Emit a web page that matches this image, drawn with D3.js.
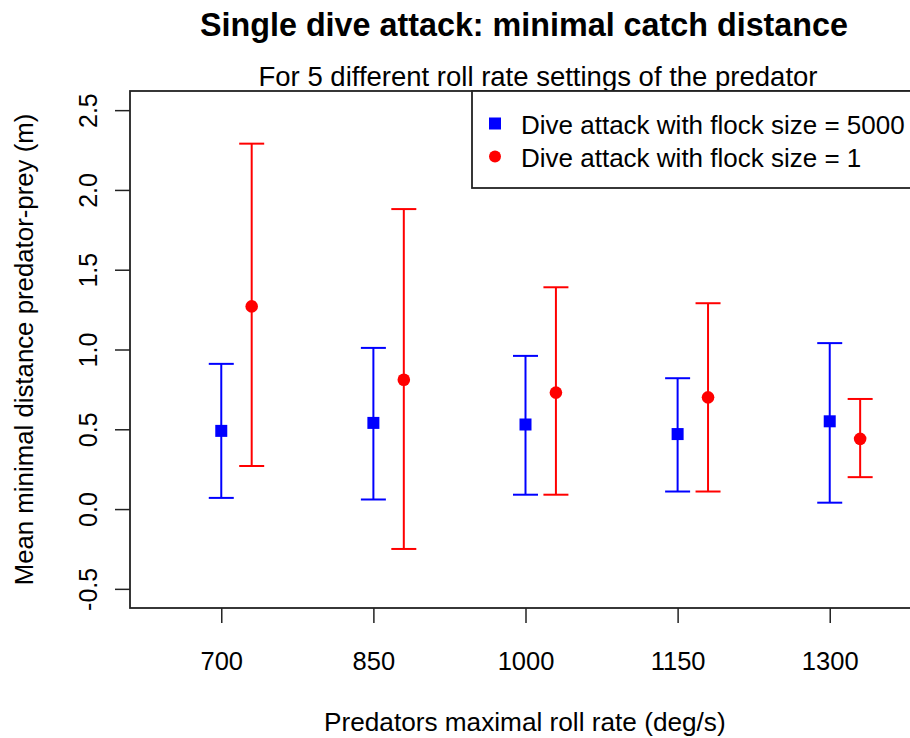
<!DOCTYPE html>
<html>
<head>
<meta charset="utf-8">
<script src="https://cdn.jsdelivr.net/npm/d3@7"></script>
<style>
  body { margin: 0; background: #fff; }
  text { font-family: "Liberation Sans", Arial, sans-serif; fill: #000; }
</style>
</head>
<body>
<script>
// roll rate settings (deg/s)
let rates = [700, 850, 1000, 1150, 1300];
let yTicks = [-0.5, 0.0, 0.5, 1.0, 1.5, 2.0, 2.5];

// flock size = 5000
let flock5000Mean = [0.49, 0.54, 0.53, 0.47, 0.55];
let flock5000Low  = [0.07, 0.06, 0.09, 0.11, 0.04];
let flock5000High = [0.91, 1.01, 0.96, 0.82, 1.04];

// flock size = 1 (drawn a bit to the right of the tick)
let flock1Mean = [1.27, 0.81, 0.73, 0.70, 0.44];
let flock1Low  = [0.27, -0.25, 0.09, 0.11, 0.20];
let flock1High = [2.29, 1.88, 1.39, 1.29, 0.69];
let flock1Offset = 30;

let legendLabels = ["Dive attack with flock size = 5000", "Dive attack with flock size = 1"];

let w = 910, h = 738;
let pLeft = 130, pTop = 91, pBottom = 608, pRight = 921;

let x = d3.scaleLinear().domain([610, 1390]).range([pLeft, pRight]);
let y = d3.scaleLinear().domain([-0.62, 2.62]).range([pBottom, pTop]);

let svg = d3.select("body").append("svg").attr("width", w).attr("height", h);

// titles
svg.append("text").attr("x", 524).attr("y", 36).attr("text-anchor", "middle")
  .style("font-weight", "bold").style("font-size", "32.3px")
  .text("Single dive attack: minimal catch distance");
svg.append("text").attr("x", 538).attr("y", 86).attr("text-anchor", "middle")
  .style("font-size", "27.5px")
  .text("For 5 different roll rate settings of the predator");

// x axis
let xAxis = svg.append("g").attr("transform", `translate(0,${pBottom})`)
  .call(d3.axisBottom(x).tickValues(rates).tickSize(15).tickPadding(0).tickFormat(d3.format("d")));
xAxis.select(".domain").remove();
xAxis.selectAll("line").attr("stroke", "#222").attr("stroke-width", 1.5);
xAxis.selectAll("text").attr("y", 62).attr("dy", 0).style("font-size", "25.5px");

// y axis (plain hyphen for negatives, like the original)
let yAxis = svg.append("g").attr("transform", `translate(${pLeft},0)`)
  .call(d3.axisLeft(y).tickValues(yTicks).tickSize(15).tickFormat(d => d.toFixed(1)));
yAxis.select(".domain").remove();
yAxis.selectAll("line").attr("stroke", "#222").attr("stroke-width", 1.5);
yAxis.selectAll("text")
  .attr("x", 0).attr("dy", 0)
  .attr("text-anchor", "middle")
  .attr("transform", "translate(-33,0) rotate(-90)")
  .style("font-size", "25px");

svg.append("text").attr("x", 324).attr("y", 731).attr("text-anchor", "start")
  .style("font-size", "26.2px").text("Predators maximal roll rate (deg/s)");
svg.append("text").attr("transform", `translate(33,${(pTop + pBottom) / 2}) rotate(-90)`)
  .attr("text-anchor", "middle").style("font-size", "25.8px")
  .text("Mean minimal distance predator-prey (m)");

// error bars
function errorBars(means, lows, highs, off, color, shape) {
  let g = svg.append("g");
  let cap = 12.5;
  rates.forEach(function(r, i) {
    let cx = x(r + off);
    g.append("line").attr("x1", cx).attr("x2", cx).attr("y1", y(lows[i])).attr("y2", y(highs[i]))
      .attr("stroke", color).attr("stroke-width", 2);
    [lows[i], highs[i]].forEach(function(v) {
      g.append("line").attr("x1", cx - cap).attr("x2", cx + cap).attr("y1", y(v)).attr("y2", y(v))
        .attr("stroke", color).attr("stroke-width", 2);
    });
    if (shape === "square") {
      g.append("rect").attr("x", cx - 6).attr("y", y(means[i]) - 6).attr("width", 12).attr("height", 12)
        .attr("fill", color);
    } else {
      g.append("circle").attr("cx", cx).attr("cy", y(means[i])).attr("r", 6.3).attr("fill", color);
    }
  });
}
errorBars(flock5000Mean, flock5000Low, flock5000High, 0, "#0000ff", "square");
errorBars(flock1Mean, flock1Low, flock1High, flock1Offset, "#ff0000", "circle");

// plot box
svg.append("rect").attr("x", pLeft).attr("y", pTop).attr("width", pRight - pLeft).attr("height", pBottom - pTop)
  .attr("fill", "none").attr("stroke", "#222").attr("stroke-width", 1.8);

// legend
let lg = svg.append("g");
lg.append("rect").attr("x", 472).attr("y", pTop).attr("width", 460).attr("height", 97)
  .attr("fill", "#fff").attr("stroke", "#222").attr("stroke-width", 1.8);
lg.append("rect").attr("x", 489).attr("y", 117.5).attr("width", 12).attr("height", 12).attr("fill", "#0000ff");
lg.append("circle").attr("cx", 495).attr("cy", 156.5).attr("r", 6).attr("fill", "#ff0000");
legendLabels.forEach(function(t, i) {
  lg.append("text").attr("x", 521).attr("y", 134 + i * 33).style("font-size", "26px").text(t);
});
</script>
</body>
</html>
